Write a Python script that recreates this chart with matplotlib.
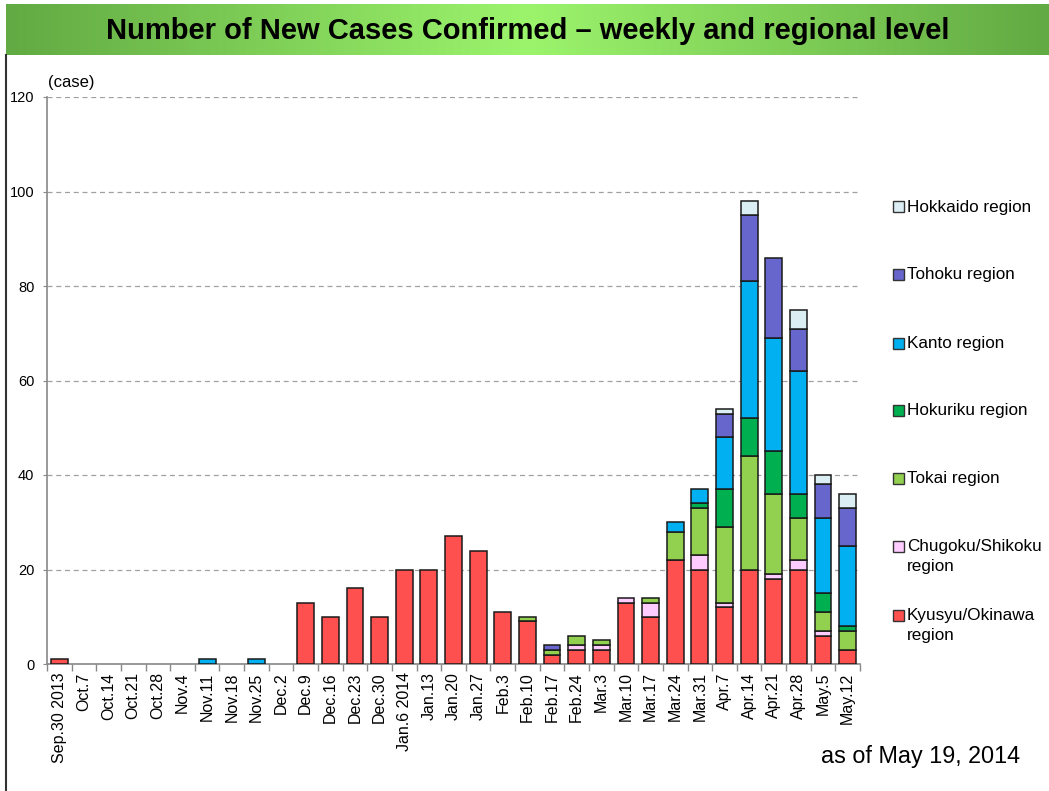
import numpy as np
import matplotlib
matplotlib.use("Agg")
import matplotlib.pyplot as plt
from matplotlib.patches import Rectangle
from matplotlib.colors import LinearSegmentedColormap

plt.rcParams['font.family'] = ['Liberation Sans', 'DejaVu Sans']

weeks = ["Sep.30 2013", "Oct.7", "Oct.14", "Oct.21", "Oct.28", "Nov.4", "Nov.11",
         "Nov.18", "Nov.25", "Dec.2", "Dec.9", "Dec.16", "Dec.23", "Dec.30",
         "Jan.6 2014", "Jan.13", "Jan.20", "Jan.27", "Feb.3", "Feb.10", "Feb.17",
         "Feb.24", "Mar.3", "Mar.10", "Mar.17", "Mar.24", "Mar.31", "Apr.7",
         "Apr.14", "Apr.21", "Apr.28", "May.5", "May.12"]

kyusyu   = [1, 0, 0, 0, 0, 0, 0, 0, 0, 0, 13, 10, 16, 10, 20, 20, 27, 24, 11, 9, 2, 3, 3, 13, 10, 22, 20, 12, 20, 18, 20, 6, 3]
chugoku  = [0, 0, 0, 0, 0, 0, 0, 0, 0, 0, 0, 0, 0, 0, 0, 0, 0, 0, 0, 0, 0, 1, 1, 1, 3, 0, 3, 1, 0, 1, 2, 1, 0]
tokai    = [0, 0, 0, 0, 0, 0, 0, 0, 0, 0, 0, 0, 0, 0, 0, 0, 0, 0, 0, 1, 1, 2, 1, 0, 1, 6, 10, 16, 24, 17, 9, 4, 4]
hokuriku = [0, 0, 0, 0, 0, 0, 0, 0, 0, 0, 0, 0, 0, 0, 0, 0, 0, 0, 0, 0, 0, 0, 0, 0, 0, 0, 1, 8, 8, 9, 5, 4, 1]
kanto    = [0, 0, 0, 0, 0, 0, 1, 0, 1, 0, 0, 0, 0, 0, 0, 0, 0, 0, 0, 0, 0, 0, 0, 0, 0, 2, 3, 11, 29, 24, 26, 16, 17]
tohoku   = [0, 0, 0, 0, 0, 0, 0, 0, 0, 0, 0, 0, 0, 0, 0, 0, 0, 0, 0, 0, 1, 0, 0, 0, 0, 0, 0, 5, 14, 17, 9, 7, 8]
hokkaido = [0, 0, 0, 0, 0, 0, 0, 0, 0, 0, 0, 0, 0, 0, 0, 0, 0, 0, 0, 0, 0, 0, 0, 0, 0, 0, 0, 1, 3, 0, 4, 2, 3]

series = [
    ("Kyusyu/Okinawa\nregion", kyusyu, "#FF5050"),
    ("Chugoku/Shikoku\nregion", chugoku, "#FFCCFF"),
    ("Tokai region", tokai, "#92D050"),
    ("Hokuriku region", hokuriku, "#00B050"),
    ("Kanto region", kanto, "#00B0F0"),
    ("Tohoku region", tohoku, "#6666CC"),
    ("Hokkaido region", hokkaido, "#DAEEF3"),
]
yticks = [0, 20, 40, 60, 80, 100, 120]

W, H = 1049, 791
fig = plt.figure(figsize=(W / 100, H / 100), dpi=100)
fig.patch.set_facecolor("white")

# Title band with green gradient
band = fig.add_axes([6 / W, 1 - 55 / H, 1 - 6 / W, 51 / H])
cmap = LinearSegmentedColormap.from_list("g", ["#62AA43", "#9CF46C", "#62AA43"])
band.imshow(np.linspace(0, 1, 256)[None, :], aspect="auto", cmap=cmap,
            extent=[0, 1, 0, 1])
band.set_axis_off()
band.text(0.5, 0.47, "Number of New Cases Confirmed \u2013 weekly and regional level",
          ha="center", va="center", fontsize=21, fontweight="bold", color="black",
          transform=band.transAxes)

# left border line
fig.add_artist(plt.Line2D([6 / W, 6 / W], [0, 1 - 55 / H], color="#333333", lw=1.5,
                          transform=fig.transFigure))

ax = fig.add_axes([47 / W, 1 - 664 / H, 813 / W, 567 / H])
x = np.arange(len(weeks))
bottom = np.zeros(len(weeks))
for name, vals, col in series:
    v = np.array(vals, dtype=float)
    mask = v > 0
    ax.bar(x[mask], v[mask], bottom=bottom[mask], width=0.68, color=col,
           edgecolor="#1a1a1a", linewidth=1.1, zorder=3)
    bottom += v

ax.set_xlim(-0.5, len(weeks) - 0.5)
ax.set_ylim(0, 120)
ax.set_yticks(yticks)
ax.set_yticklabels([str(t) for t in yticks], fontsize=10.5)
ax.yaxis.grid(True, linestyle=(0, (4, 3)), color="#A0A0A0", linewidth=0.9, zorder=0)
ax.set_xticks(x)
ax.set_xticklabels(weeks, rotation=90, fontsize=11.5)
ax.tick_params(axis="x", which="major", length=0, pad=6)
ax.set_xticks(np.arange(-0.5, len(weeks) + 0.5, 1), minor=True)
ax.tick_params(axis="x", which="minor", length=5, color="#888888", width=1)
ax.tick_params(axis="y", length=3, color="#888888", pad=6)
for s in ["top", "right"]:
    ax.spines[s].set_visible(False)
for s in ["left", "bottom"]:
    ax.spines[s].set_color("#888888")
    ax.spines[s].set_linewidth(1.2)

fig.text(48 / W, 1 - 82 / H, "(case)", fontsize=12, ha="left", va="center")

# Legend (manual placement)
legend_y = [207, 274, 343, 410, 478, 546, 615]
for (name, vals, col), yy in zip(series[::-1], legend_y):
    fig.add_artist(Rectangle((893 / W, 1 - (yy + 5.5) / H), 11 / W, 11 / H,
                             facecolor=col, edgecolor="#333333", lw=1.0,
                             transform=fig.transFigure))
    fig.text(907 / W, 1 - (yy - 7) / H, name, fontsize=12.3, ha="left", va="top",
             linespacing=1.45)

fig.text(1020 / W, 1 - 757 / H, "as of May 19, 2014", fontsize=16.8, ha="right",
         va="center")

fig.savefig("out.png", dpi=100, facecolor="white")
